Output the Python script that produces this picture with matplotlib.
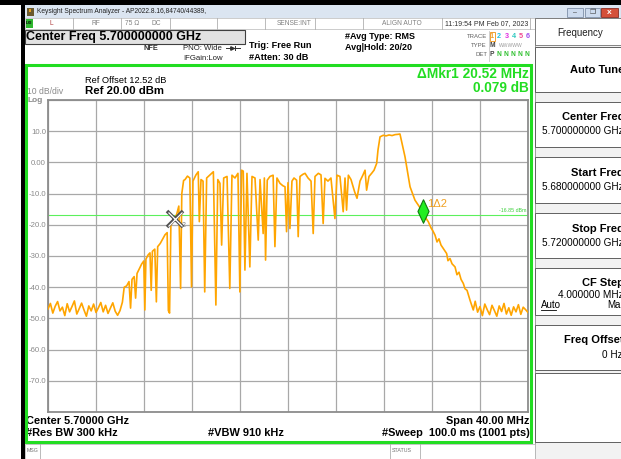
import matplotlib
matplotlib.use("Agg")
import matplotlib.pyplot as plt
from matplotlib.patches import Rectangle

plt.rcParams['font.family'] = ['Liberation Sans', 'DejaVu Sans']

# sweep / display settings
start_mhz = 5680.0
stop_mhz = 5720.0
ytick_vals = [20, 10, 0, -10, -20, -30, -40, -50, -60, -70, -80]
ytick_text = ['', '10.0', '0.00', '-10.0', '-20.0', '-30.0', '-40.0', '-50.0', '-60.0', '-70.0', '']

display_line = -16.85
mkr2_f, mkr2_db = 5690.58, -18.0      # reference marker (X)
mkr1_f, mkr1_db = 5711.22, -15.5      # delta marker (diamond)

# trace (MHz, dBm)
trace_f = [
    # left noise floor
    5680.0, 5680.2, 5680.4, 5680.6, 5680.8, 5681.0, 5681.2, 5681.4, 5681.6, 5681.8,
    5682.0, 5682.2, 5682.4, 5682.6, 5682.8, 5683.0, 5683.2, 5683.4, 5683.6, 5683.8,
    5684.0, 5684.2, 5684.4, 5684.6, 5684.8, 5685.0, 5685.2, 5685.4, 5685.6, 5685.8, 5686.0,
    # lower skirt
    5686.20, 5686.35, 5686.55, 5686.75, 5686.88, 5687.00, 5687.18, 5687.30, 5687.42, 5687.60,
    5687.80, 5687.98, 5688.07, 5688.16, 5688.35, 5688.50, 5688.60, 5688.70, 5688.90, 5689.03,
    5689.14, 5689.35, 5689.55, 5689.75, 5689.93, 5690.03, 5690.13, 5690.24, 5690.42, 5690.58,
    5690.74, 5690.90, 5691.05, 5691.15, 5691.30,
    # in-band
    5691.42, 5691.62, 5691.82, 5691.96, 5692.08, 5692.33, 5692.52, 5692.61, 5692.75, 5692.92,
    5693.06, 5693.22, 5693.50, 5693.78, 5693.99, 5694.15, 5694.33, 5694.47, 5694.64, 5694.92,
    5695.15, 5695.33, 5695.58, 5695.83, 5695.99, 5696.13, 5696.27, 5696.41, 5696.58, 5696.82,
    5697.00, 5697.25, 5697.52, 5697.67, 5697.93, 5698.03, 5698.13, 5698.27, 5698.50, 5698.76,
    5698.91, 5699.08, 5699.33, 5699.58, 5699.75, 5699.88, 5700.00, 5700.16, 5700.33, 5700.50,
    5700.72, 5700.85, 5701.00, 5701.25, 5701.42, 5701.67, 5701.92, 5702.10, 5702.25, 5702.53,
    5702.75, 5702.93, 5703.08, 5703.33, 5703.58, 5703.91, 5704.08, 5704.33, 5704.60, 5704.75,
    5704.88, 5705.03, 5705.25, 5705.55, 5705.75, 5706.00, 5706.25, 5706.42, 5706.55, 5706.75,
    5706.97, 5707.17, 5707.39, 5707.50, 5707.67,
    # peak plateau and roll-off
    5707.94, 5708.17, 5708.42, 5708.67, 5708.92, 5709.17, 5709.33, 5709.54, 5709.75, 5709.96,
    5710.17, 5710.38, 5710.58, 5710.83, 5711.00, 5711.22, 5711.42, 5711.69, 5711.92, 5712.08,
    5712.25, 5712.42, 5712.58, 5712.75, 5712.92, 5713.22, 5713.33, 5713.50, 5713.67, 5713.92,
    5714.08, 5714.25, 5714.42, 5714.61, 5714.75, 5714.92, 5715.17, 5715.44,
    # right noise floor
    5715.6, 5715.8, 5716.0, 5716.2, 5716.4, 5716.6, 5716.8, 5717.0, 5717.2, 5717.4,
    5717.6, 5717.8, 5718.0, 5718.2, 5718.4, 5718.6, 5718.8, 5719.0, 5719.2, 5719.4,
    5719.6, 5719.8, 5720.0,
]
trace_db = [
    -47.0, -45.2, -48.3, -46.1, -44.6, -47.6, -46.4, -49.1, -45.3, -47.9,
    -46.2, -44.4, -48.6, -46.9, -45.1, -47.3, -49.3, -46.0, -47.6, -45.4,
    -48.1, -46.6, -44.9, -47.9, -45.8, -48.4, -46.7, -45.0, -47.7, -49.0, -47.5,
    -44.8, -40.0, -39.6, -38.2, -46.7, -37.5, -36.6, -43.5, -35.6, -34.2,
    -32.6, -31.6, -47.3, -31.0, -29.6, -29.0, -41.0, -28.5, -27.8, -44.7,
    -27.0, -26.0, -24.6, -23.2, -22.5, -47.5, -48.3, -20.1, -19.0, -18.0,
    -16.4, -14.0, -40.4, -10.0, -5.8,
    -5.5, -4.4, -5.0, -39.9, -6.0, -4.0, -3.0, -19.0, -5.5, -6.0,
    -41.5, -5.0, -4.0, -3.0, -45.7, -5.5, -6.7, -26.5, -5.0, -4.5,
    -40.4, -4.1, -5.0, -3.5, -41.5, -2.5, -2.8, -34.5, -3.5, -33.5,
    -4.5, -5.0, -24.9, -5.5, -22.8, -5.0, -31.3, -5.7, -4.5, -4.1,
    -27.0, -5.0, -6.7, -7.5, -7.8, -22.2, -6.5, -21.2, -6.0, -5.0,
    -5.7, -23.8, -4.5, -3.8, -3.5, -5.0, -6.0, -22.8, -4.5, -3.5,
    -4.0, -19.6, -5.1, -6.0, -5.0, -18.0, -4.1, -4.5, -15.8, -5.0,
    -15.3, -4.1, -5.5, -9.4, -11.5, -6.0, -4.0, -2.5, -8.9, -4.5,
    -3.5, -2.5, -0.3, 4.0, 8.2,
    8.7, 8.5, 8.8, 8.6, 8.9, 9.0, 9.1, 5.5, 1.8, -3.0,
    -7.8, -10.0, -12.1, -13.5, -14.5, -15.5, -17.5, -19.0, -21.0, -22.0,
    -23.3, -25.5, -24.5, -26.5, -27.5, -29.2, -31.5, -30.8, -32.5, -33.5,
    -36.0, -35.2, -37.5, -38.8, -40.5, -41.0, -44.2, -47.3,
    -44.5, -48.0, -46.2, -49.1, -45.4, -47.2, -48.8, -45.8, -47.5, -49.3,
    -46.0, -47.8, -45.2, -48.6, -46.6, -49.0, -46.3, -47.9, -45.6, -48.7,
    -46.4, -47.2, -48.1,
]

W, H = 621, 459
fig = plt.figure(figsize=(W / 100, H / 100), dpi=100)
bg = fig.add_axes([0, 0, 1, 1])
bg.set_xlim(0, W)
bg.set_ylim(H, 0)
bg.axis('off')


def box(x0, y0, x1, y1, fc='white', ec='none', lw=0.8, z=1):
    bg.add_patch(Rectangle((x0, y0), x1 - x0, y1 - y0, facecolor=fc,
                           edgecolor=ec, linewidth=lw, zorder=z))


def txt(x, y, s, size=6, color='black', weight='normal', ha='left', **kw):
    bg.text(x, y, s, fontsize=size, color=color, fontweight=weight,
            ha=ha, va='center', **kw)


def vline(x, y0, y1, color='#b0b0b0', lw=0.6):
    bg.plot([x, x], [y0, y1], color=color, lw=lw, zorder=2)


# window chrome
box(0, 0, W, 5, fc='black', z=3)
box(21, 0, 25, H, fc='black', z=3)
box(25, 5, W, 18, fc='#dbe5f1')
box(27, 7.5, 34, 15.5, fc='#6b5a2e', z=2)
box(28.5, 9, 31, 12, fc='#e8a020', z=2)
txt(37, 11.5, 'Keysight Spectrum Analyzer - AP2022.8.16,84740/44389,', size=4.8, color='#202020')
box(567, 8, 583, 17, fc='#cddbee', ec='#7f8fa8', lw=0.6, z=2)
box(585, 8, 600, 17, fc='#cddbee', ec='#7f8fa8', lw=0.6, z=2)
box(601, 8, 618, 17, fc='#d4503a', ec='#8a2a20', lw=0.6, z=2)
txt(575, 12.5, '–', size=5, color='#404040', ha='center')
txt(592.5, 12.5, '❐', size=5, color='#404040', ha='center')
txt(609.5, 12, 'x', size=6, color='white', weight='bold', ha='center')

# status row
box(25, 18, 535, 29, fc='white', ec='#b8b8b8', lw=0.5)
for sx in [73, 121, 170, 217, 265, 315, 363, 442, 530]:
    vline(sx, 18, 29)
box(25.5, 19, 32.5, 27.5, fc='#2fb82f', z=2)
txt(29, 23.3, 'LXI', size=3, color='black', weight='bold', ha='center', zorder=3)
txt(50, 23.5, 'L', size=4.8, color='#b04040')
txt(92, 23.5, 'RF', size=4.8, color='#808080')
txt(125, 23.5, '75 Ω', size=4.8, color='#808080')
txt(152, 23.5, 'DC', size=4.8, color='#808080')
txt(312, 23.5, 'SENSE:INT', size=4.8, color='#808080', ha='right')
txt(402, 23.5, 'ALIGN AUTO', size=4.8, color='#808080', ha='center')
txt(445, 23.5, '11:19:54 PM Feb 07, 2023', size=5, color='#303030')

# settings header
box(25, 30, 245, 43.5, fc='#e2e2e2', ec='#404040', lw=0.8)
txt(26.5, 37, 'Center Freq 5.700000000 GHz', size=9.0, weight='bold')
txt(143, 48, 'NFE', size=5.3, weight='bold', color='#303030')
txt(183, 48, 'PNO: Wide', size=5.6, color='#202020')
bg.plot([226, 240], [47.5, 47.5], color='#303030', lw=0.7)
bg.plot([232], [47.5], marker='>', ms=2.5, color='#303030')
vline(234.5, 45.5, 49.5, color='#303030', lw=0.7)
txt(183, 58, 'IFGain:Low', size=5.6, color='#202020')
txt(249, 45.5, 'Trig: Free Run', size=6.6, weight='bold')
txt(249, 57, '#Atten: 30 dB', size=6.6, weight='bold')
txt(345, 36.5, '#Avg Type: RMS', size=6.5, weight='bold')
txt(345, 47.5, 'Avg|Hold: 20/20', size=6.5, weight='bold')
txt(487, 36, 'TRACE', size=4.3, color='#606060', ha='right')
txt(487, 45.5, 'TYPE', size=4.3, color='#606060', ha='right')
txt(487, 55, 'DET', size=4.3, color='#606060', ha='right')
vline(488.5, 31, 61, color='#c8c8c8')
box(489.5, 31.5, 495, 40.5, fc='white', ec='#f0a030', lw=0.7, z=2)
trace_cols = ['#f0a030', '#20c0e0', '#e030e0', '#30c8c0', '#f04890', '#a050f0']
for i, c in enumerate(trace_cols):
    txt(492 + 7.2 * i, 36, str(i + 1), size=5.2, color=c, weight='bold', ha='center', zorder=3)
txt(492, 45.5, 'M', size=4.8, color='#404040', weight='bold', ha='center')
txt(499, 45.5, 'WWWWW', size=3.6, color='#9a9a9a')
txt(492, 55, 'P', size=4.8, color='#404040', weight='bold', ha='center')
for i in range(5):
    txt(499 + 7.0 * i, 55, 'N', size=4.8, color='#30c030', weight='bold', ha='center')

# softkey panel (labels run past the right edge, as on the instrument screen)
box(535, 18, W + 2, H + 2, fc='#f2f2f2', ec='#909090', lw=0.6)
box(535, 18, W + 2, 45, fc='white', ec='#707070', lw=0.6)
txt(580, 33, 'Frequency', size=7, ha='center', color='#202020')
for y0, y1 in [(47, 92), (102, 147), (157, 203), (213, 258), (268, 315), (325, 370), (373, 442)]:
    box(535, y0, W + 2, y1, fc='white', ec='#606060', lw=0.7)
txt(624, 70, 'Auto Tune', size=8, weight='bold', ha='right')
txt(624, 117, 'Center Freq', size=8, weight='bold', ha='right')
txt(624, 130.5, '5.700000000 GHz', size=7.2, ha='right')
txt(624, 173, 'Start Freq', size=8, weight='bold', ha='right')
txt(624, 186.5, '5.680000000 GHz', size=7.2, ha='right')
txt(624, 229, 'Stop Freq', size=8, weight='bold', ha='right')
txt(624, 242.5, '5.720000000 GHz', size=7.2, ha='right')
txt(624, 283, 'CF Step', size=8, weight='bold', ha='right')
txt(624, 294.5, '4.000000 MHz', size=7.2, ha='right')
txt(541, 305.5, 'Auto', size=7)
bg.plot([541, 556], [310, 310], color='black', lw=0.6)
txt(626, 305.5, 'Man', size=7, ha='right')
txt(624, 340, 'Freq Offset', size=8, weight='bold', ha='right')
txt(623, 355.5, '0 Hz', size=7.2, ha='right')

# graticule frame and annotations
bg.add_patch(Rectangle((26, 65), 505, 377, facecolor='none', edgecolor='#22dd22', linewidth=2.2, zorder=4))
txt(85, 80.5, 'Ref Offset 12.52 dB', size=6.7)
txt(85, 91, 'Ref 20.00 dBm', size=8.2, weight='bold')
txt(27, 92, '10 dB/div', size=6.2, color='#8a8a8a')
txt(27, 100.5, 'Log', size=6.0, color='#8a8a8a', weight='bold')
txt(529, 74.5, 'ΔMkr1 20.52 MHz', size=9.9, weight='bold', color='#22dd22', ha='right')
txt(529, 88.5, '0.079 dB', size=9.8, weight='bold', color='#22dd22', ha='right')
txt(26.5, 420.5, 'Center 5.70000 GHz', size=7.9, weight='bold')
txt(529.5, 420.5, 'Span 40.00 MHz', size=7.9, weight='bold', ha='right')
txt(26.5, 433.5, '#Res BW 300 kHz', size=7.9, weight='bold')
txt(208, 433.5, '#VBW 910 kHz', size=7.9, weight='bold')
txt(529.5, 433.5, '#Sweep  100.0 ms (1001 pts)', size=7.9, weight='bold', ha='right')

# message bar
box(25, 444, 535, H + 1, fc='white', ec='#b0b0b0', lw=0.5)
vline(40, 444, H)
vline(390, 444, H)
vline(420, 444, H)
txt(27, 451, 'MSG', size=3.8, color='#707070')
txt(392, 451, 'STATUS', size=3.8, color='#707070')

# trace axes
ax = fig.add_axes([48 / W, (H - 412) / H, 480 / W, 312 / H])
ax.set_facecolor('white')
ax.set_xlim(start_mhz, stop_mhz)
ax.set_ylim(-80, 20)
ax.set_xticks([start_mhz + 4 * i for i in range(11)])
ax.set_xticklabels([])
ax.set_yticks(ytick_vals)
ax.set_yticklabels(ytick_text, fontsize=5.6, color='#8a8a8a')
ax.tick_params(length=0, pad=1.5)
ax.grid(True, color='#a8a8a8', lw=0.9)
for sp in ax.spines.values():
    sp.set_color('#8c8c8c')
    sp.set_linewidth(1.3)

ax.axhline(display_line, color='#5cf05c', lw=0.8, zorder=2)
ax.text(stop_mhz - 0.1, display_line + 0.5, '-16.85 dBm', ha='right', va='bottom',
        fontsize=3.8, color='#3cd03c')
ax.plot(trace_f, trace_db, color='#ffa500', lw=1.2, zorder=3)

ax.plot(mkr2_f, mkr2_db, marker='x', ms=11, mew=2.6, color='#505050', zorder=5)
ax.plot(mkr2_f, mkr2_db, marker='x', ms=10, mew=0.9, color='white', zorder=6)
ax.annotate('2', (mkr2_f, mkr2_db), xytext=(5, -6), textcoords='offset points',
            fontsize=5, color='#808080')

diamond = [(0, 1), (0.47, 0), (0, -1), (-0.47, 0), (0, 1)]
ax.plot(mkr1_f, mkr1_db, marker=diamond, ms=17, mfc='#22ee22', mec='#107a10',
        mew=0.8, zorder=6)
ax.annotate('1Δ2', (mkr1_f, mkr1_db), xytext=(3.5, 3), textcoords='offset points',
            fontsize=8, color='#f0a020')

fig.savefig('out.png', dpi=100)
